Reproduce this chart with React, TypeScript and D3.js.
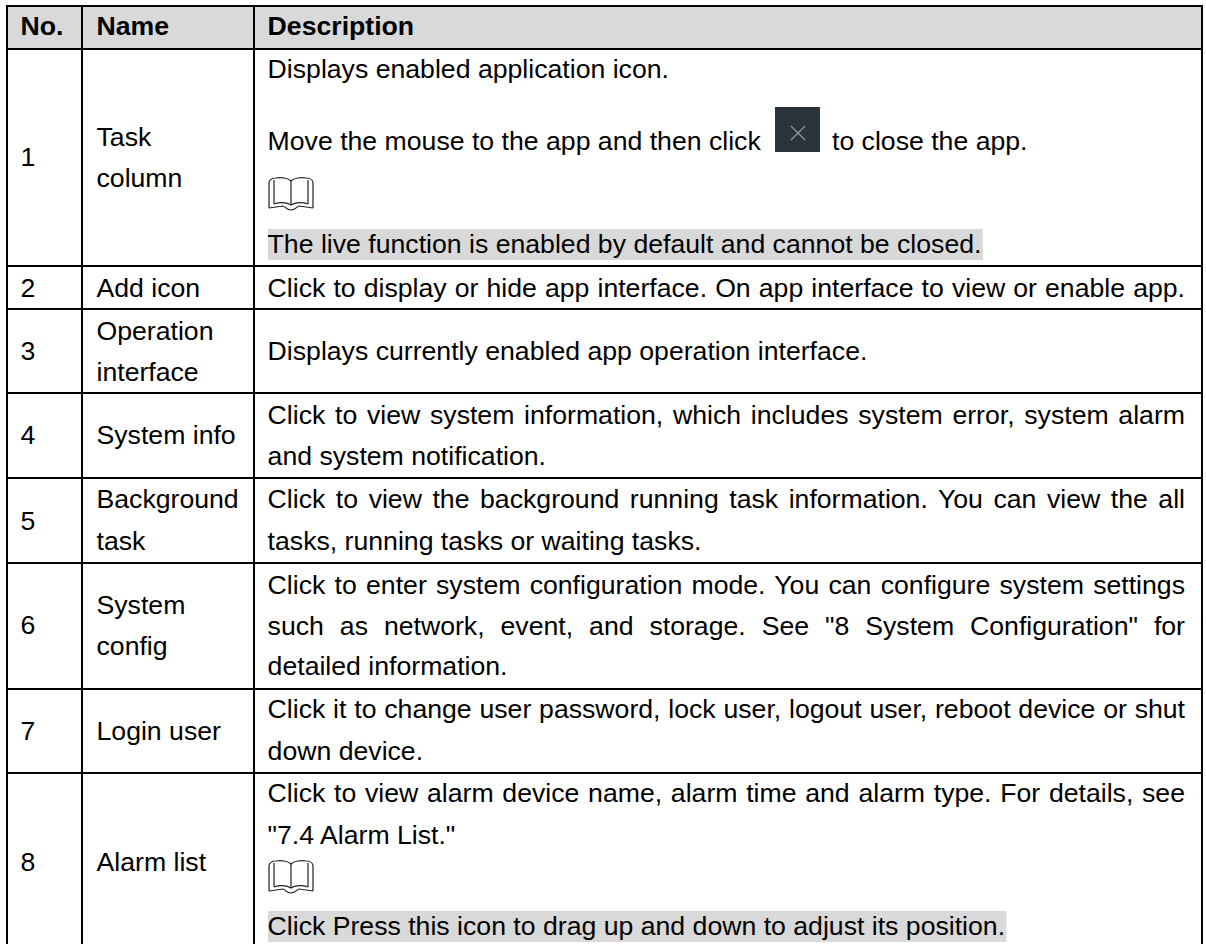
import React, { useRef, useEffect } from 'react';
import * as d3 from 'd3';

const headers = ['No.', 'Name', 'Description'];
const numbers = ['1', '2', '3', '4', '5', '6', '7', '8'];
const names = [
    ['Task', 'column'],
    ['Add icon'],
    ['Operation', 'interface'],
    ['System info'],
    ['Background', 'task'],
    ['System', 'config'],
    ['Login user'],
    ['Alarm list'],
];
// j = stretched to the cell width, hl = grey highlight behind the line
const descriptions = [
    [
        { t: 'Displays enabled application icon.' },
        { t: 'Move the mouse to the app and then click', icon: 'close', tail: 'to close the app.' },
        { t: '', icon: 'book' },
        { t: 'The live function is enabled by default and cannot be closed.', hl: true },
    ],
    [{ t: 'Click to display or hide app interface. On app interface to view or enable app.', j: true }],
    [{ t: 'Displays currently enabled app operation interface.' }],
    [
        { t: 'Click to view system information, which includes system error, system alarm', j: true },
        { t: 'and system notification.' },
    ],
    [
        { t: 'Click to view the background running task information. You can view the all', j: true },
        { t: 'tasks, running tasks or waiting tasks.' },
    ],
    [
        { t: 'Click to enter system configuration mode. You can configure system settings', j: true },
        { t: 'such as network, event, and storage. See "8 System Configuration" for', j: true },
        { t: 'detailed information.' },
    ],
    [
        { t: 'Click it to change user password, lock user, logout user, reboot device or shut', j: true },
        { t: 'down device.' },
    ],
    [
        { t: 'Click to view alarm device name, alarm time and alarm type. For details, see', j: true },
        { t: '"7.4 Alarm List."' },
        { t: '', icon: 'book' },
        { t: 'Click Press this icon to drag up and down to adjust its position.', hl: true },
    ],
];

// layout, measured off the page
const FONT = '"Liberation Sans", Arial, sans-serif';
const SIZE = 26.65;
const rowEdges = [49, 266, 309, 393, 478, 563, 689, 773];
const colEdges = [7, 82, 254, 1202];
const tableTop = 6;
const textLeft = [20.5, 96.5, 267.6];
const textRight = 1185;
const numberBase = [166, 297, 360, 444, 530, 634, 740, 871];
const nameBase = [[146, 187], [297], [340, 381], [444], [508, 550], [614, 655], [740], [871]];
const descBase = [
    [78, 150, 177, 253],
    [297],
    [360],
    [424, 465],
    [508, 550],
    [594, 635, 675],
    [718, 760],
    [802, 844, 860, 935],
];

const App = () => {
    const ref = useRef<SVGSVGElement>(null);

    useEffect(() => {
        const svg = d3.select(ref.current)
            .attr('width', 1206)
            .attr('height', 944)
            .style('position', 'absolute')
            .style('left', 0)
            .style('top', 0);
        svg.selectAll('*').remove();

        svg.append('rect').attr('width', 1206).attr('height', 944).attr('fill', '#fff');

        svg.append('rect')
            .attr('x', colEdges[0]).attr('y', tableTop)
            .attr('width', colEdges[3] - colEdges[0]).attr('height', rowEdges[0] - tableTop)
            .attr('fill', '#d9d9d9');

        const g = svg.append('g')
            .attr('font-family', FONT).attr('font-size', SIZE).attr('fill', '#000');

        headers.forEach((h, i) => {
            g.append('text').attr('x', textLeft[i]).attr('y', 35)
                .attr('font-weight', 'bold').text(h);
        });

        const drawBook = (x: number, top: number) => {
            const b = g.append('g').attr('transform', `translate(${x},${top})`)
                .attr('fill', 'none').attr('stroke', '#222').attr('stroke-width', 1.2);
            b.append('path').attr('d', 'M1 31V6C1 3 4 1 8 1C13 0 20 1 23 4C26 1 33 0 38 1C42 1 45 3 45 6V31');
            b.append('path').attr('d', 'M6 3V27M40 3V27M23 4V28');
            b.append('path').attr('d', 'M6 27C11 25 19 25 23 28C27 25 35 25 40 27');
            b.append('path').attr('d', 'M1 31L15 29C17 29 18 33 23 33C28 33 29 29 31 29L45 31');
        };

        numbers.forEach((n, i) => {
            g.append('text').attr('x', textLeft[0]).attr('y', numberBase[i]).text(n);
            names[i].forEach((s, k) => {
                g.append('text').attr('x', textLeft[1]).attr('y', nameBase[i][k]).text(s);
            });

            descriptions[i].forEach((l: any, k: number) => {
                const y = descBase[i][k];
                if (l.icon === 'book') {
                    drawBook(268, y);
                    return;
                }
                const txt = g.append('text').attr('x', textLeft[2]).attr('y', y).text(l.t);
                const w = (txt.node() as SVGTextElement).getComputedTextLength();
                if (l.hl) {
                    g.insert('rect', 'text')
                        .attr('x', 268).attr('y', y - 24)
                        .attr('width', w + 1).attr('height', 31).attr('fill', '#d9d9d9');
                }
                if (l.j) {
                    const gaps = l.t.split(' ').length - 1;
                    txt.attr('word-spacing', (textRight - textLeft[2] - w) / gaps);
                }
                if (l.tail) {
                    // close button sits inline between the two text runs
                    g.append('rect').attr('x', 775).attr('y', y - 43)
                        .attr('width', 45).attr('height', 45).attr('fill', '#2a333b');
                    g.append('path')
                        .attr('d', `M791 ${y - 24}l14 14M805 ${y - 24}l-14 14`)
                        .attr('stroke', '#8f9aa3').attr('stroke-width', 1.3);
                    g.append('text').attr('x', 832).attr('y', y).text(l.tail);
                }
            });
        });

        // rules over the fills
        const rules = svg.append('g').attr('stroke', '#000').attr('stroke-width', 2);
        colEdges.forEach(x => {
            rules.append('line').attr('x1', x).attr('x2', x).attr('y1', tableTop - 1).attr('y2', 944);
        });
        [tableTop, ...rowEdges].forEach(y => {
            rules.append('line').attr('x1', colEdges[0] - 1).attr('x2', colEdges[3] + 1).attr('y1', y).attr('y2', y);
        });
    }, []);

    return <svg ref={ref}></svg>;
};

export default App;
